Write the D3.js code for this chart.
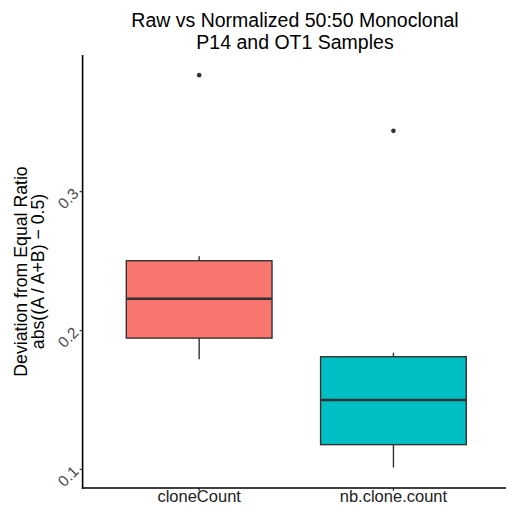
<!DOCTYPE html>
<html><head><meta charset="utf-8">
<script src="https://cdn.jsdelivr.net/npm/d3@7"></script>
<style>body{margin:0;background:#fff}svg{display:block}text{font-family:"Liberation Sans",Arial,sans-serif}</style>
</head><body>
<script>
const categories = ["cloneCount", "nb.clone.count"];
const whiskerLow = [0.179, 0.101];
const q1 = [0.1942, 0.1175];
const median = [0.2225, 0.1496];
const q3 = [0.2499, 0.1808];
const whiskerHigh = [0.2532, 0.1837];
const outliers = [[0.3835], [0.3434]];
const fills = ["#F8766D", "#00BFC4"];
const yTicks = [0.1, 0.2, 0.3];

(function () {
const W = 506, H = 507;
const svg = d3.select("body").append("svg").attr("width", W).attr("height", H);
const pL = 82.6, pR = 510, pT = 55, pB = 488;

const y = d3.scaleLinear().domain([0.0863, 0.398]).range([pB, pT]);
const x = d3.scaleBand().domain(categories).range([pL, pR]).paddingOuter(0.1).paddingInner(0);
const boxW = x.bandwidth() * 0.75;

const g = svg.append("g");
categories.forEach((c, i) => {
  const cx = x(c) + x.bandwidth() / 2;
  g.append("line").attr("x1", cx).attr("x2", cx).attr("y1", y(q3[i])).attr("y2", y(whiskerHigh[i]))
    .attr("stroke", "#333").attr("stroke-width", 1.4);
  g.append("line").attr("x1", cx).attr("x2", cx).attr("y1", y(q1[i])).attr("y2", y(whiskerLow[i]))
    .attr("stroke", "#333").attr("stroke-width", 1.4);
  g.append("rect").attr("x", cx - boxW / 2).attr("width", boxW)
    .attr("y", y(q3[i])).attr("height", y(q1[i]) - y(q3[i]))
    .attr("fill", fills[i]).attr("stroke", "#333").attr("stroke-width", 1.4);
  g.append("line").attr("x1", cx - boxW / 2).attr("x2", cx + boxW / 2)
    .attr("y1", y(median[i])).attr("y2", y(median[i]))
    .attr("stroke", "#333").attr("stroke-width", 2.6);
  outliers[i].forEach(v => {
    g.append("circle").attr("cx", cx).attr("cy", y(v)).attr("r", 2.3).attr("fill", "#333");
  });
});

// y axis
const ya = svg.append("g").attr("transform", `translate(${pL},0)`)
  .call(d3.axisLeft(y).tickValues(yTicks).tickSize(3).tickFormat(d3.format(".1f")));
ya.select(".domain").remove();
ya.selectAll(".tick line").attr("stroke", "#333").attr("stroke-width", 1.2);
ya.selectAll(".tick text").attr("fill", "#4d4d4d").style("font-size", "15.5px")
  .attr("x", null).attr("dy", null)
  .attr("transform", "translate(-3,3) rotate(-45)")
  .attr("text-anchor", "end");
svg.append("line").attr("x1", pL).attr("x2", pL).attr("y1", pT).attr("y2", pB + 0.8)
  .attr("stroke", "#000").attr("stroke-width", 1.6);

// x axis
const xa = svg.append("g").attr("transform", `translate(0,${pB})`)
  .call(d3.axisBottom(x).tickSize(3));
xa.select(".domain").remove();
xa.selectAll(".tick line").attr("stroke", "#333").attr("stroke-width", 1.2);
xa.selectAll(".tick text").attr("fill", "#222").style("font-size", "16.5px").attr("y", 2).attr("dy", "0.75em");
svg.append("line").attr("x1", pL - 0.8).attr("x2", pR).attr("y1", pB).attr("y2", pB)
  .attr("stroke", "#000").attr("stroke-width", 1.6);

// y title
const yt = svg.append("text").attr("transform", `translate(26.5,${(pT + pB) / 2}) rotate(-90)`)
  .attr("text-anchor", "middle").style("font-size", "17.7px").attr("fill", "#000");
yt.append("tspan").attr("x", 0).attr("dy", 0).text("Deviation from Equal Ratio");
yt.append("tspan").attr("x", 0).attr("dy", 17).text("abs((A / A+B) \u2212 0.5)");

// title
const tt = svg.append("text").attr("text-anchor", "middle").style("font-size", "19.5px").attr("fill", "#000");
tt.append("tspan").attr("x", 295).attr("y", 27).text("Raw vs Normalized 50:50 Monoclonal");
tt.append("tspan").attr("x", 295).attr("y", 48.5).text("P14 and OT1 Samples");
})();
</script>
</body></html>
